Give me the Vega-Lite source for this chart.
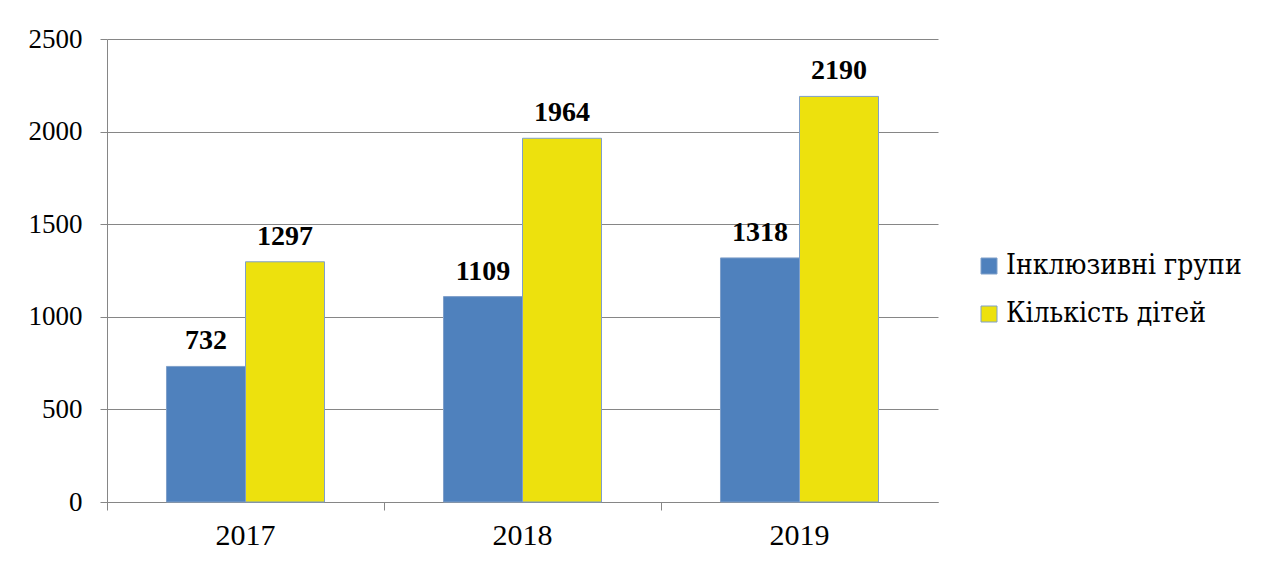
{
  "$schema": "https://vega.github.io/schema/vega-lite/v6.json",
  "autosize": {"type": "none"},
  "width": 831,
  "height": 463,
  "padding": {"left": 107, "top": 39, "right": 337, "bottom": 67},
  "background": "white",
  "data": {
    "values": [
      {"year": "2017", "series": "Інклюзивні групи", "value": 732},
      {"year": "2017", "series": "Кількість дітей", "value": 1297},
      {"year": "2018", "series": "Інклюзивні групи", "value": 1109},
      {"year": "2018", "series": "Кількість дітей", "value": 1964},
      {"year": "2019", "series": "Інклюзивні групи", "value": 1318},
      {"year": "2019", "series": "Кількість дітей", "value": 2190}
    ]
  },
  "encoding": {
    "x": {
      "field": "year", "type": "nominal",
      "scale": {"paddingInner": 0, "paddingOuter": 0},
      "axis": {
        "title": null, "labelAngle": 0, "labelFont": "Liberation Serif", "labelFontSize": 30,
        "labelColor": "#000000", "labelPadding": 10, "tickSize": 8, "tickColor": "#868686",
        "domainColor": "#868686", "bandPosition": 0, "grid": false
      }
    },
    "xOffset": {
      "field": "series", "type": "nominal",
      "scale": {"domain": ["Інклюзивні групи", "Кількість дітей"], "paddingInner": 0, "paddingOuter": 0.753}
    },
    "y": {
      "field": "value", "type": "quantitative",
      "scale": {"domain": [0, 2500], "nice": false},
      "axis": {
        "title": null, "values": [0, 500, 1000, 1500, 2000, 2500], "format": "d", "labelFont": "Liberation Serif",
        "labelFontSize": 27, "labelColor": "#000000", "labelPadding": 18, "tickSize": 7,
        "tickColor": "#868686", "domainColor": "#868686", "gridColor": "#868686", "grid": true
      }
    }
  },
  "layer": [
    {
      "mark": {"type": "bar", "stroke": "#7f9fc9", "strokeWidth": 1},
      "encoding": {
        "color": {
          "field": "series", "type": "nominal",
          "scale": {"domain": ["Інклюзивні групи", "Кількість дітей"], "range": ["#4F81BD", "#EDE10D"]},
          "legend": {
            "title": null, "orient": "none", "legendX": 868, "legendY": 213,
            "symbolType": "square", "symbolSize": 256, "symbolStrokeColor": "#7f9fc9", "symbolStrokeWidth": 1,
            "labelFont": "'DejaVu Serif Condensed', 'DejaVu Serif'", "labelFontSize": 28, "labelColor": "#000000",
            "labelOffset": 3, "rowPadding": 20, "padding": 0, "labelLimit": 400
          }
        }
      }
    },
    {
      "mark": {"type": "text", "font": "Liberation Serif", "fontSize": 28, "fontWeight": "bold", "baseline": "alphabetic", "dy": -17, "color": "#000000"},
      "encoding": {"text": {"field": "value", "type": "quantitative"}}
    }
  ],
  "config": {
    "view": {"stroke": null}
  }
}
